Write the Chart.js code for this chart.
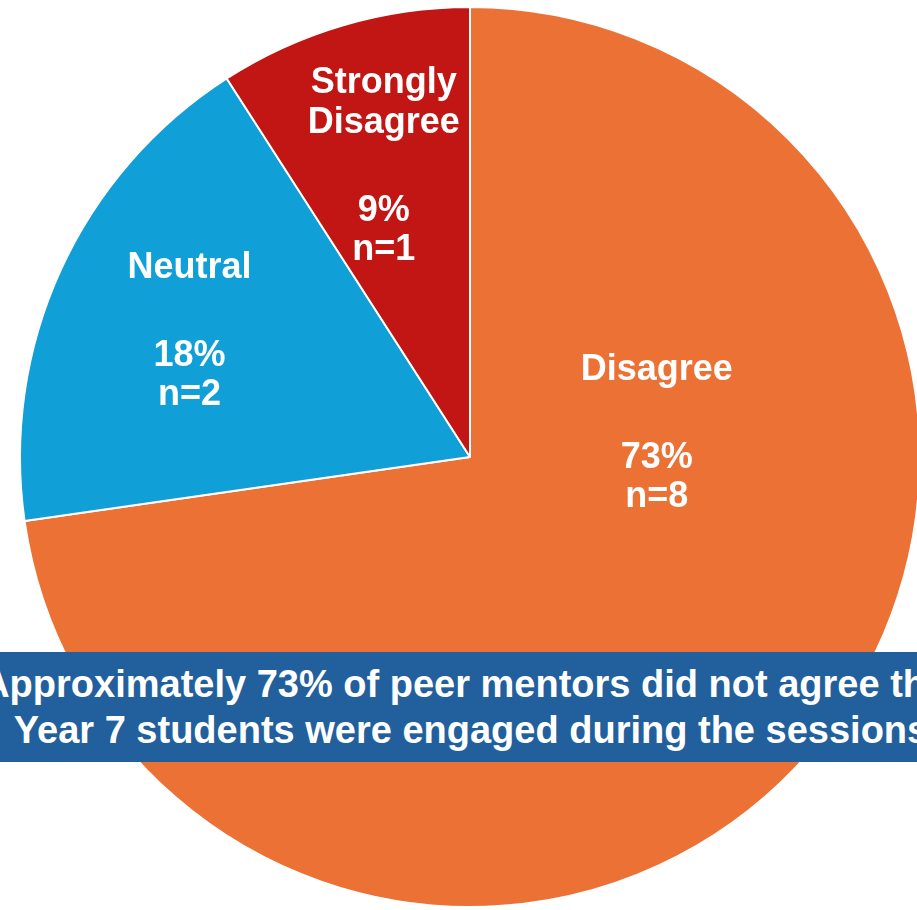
<!DOCTYPE html>
<html>
<head>
<meta charset="utf-8">
<script src="https://cdn.jsdelivr.net/npm/chart.js@4.4.1/dist/chart.umd.min.js"></script>
<style>
  html, body { margin: 0; padding: 0; width: 917px; height: 910px; overflow: hidden; background: #ffffff; }
  #wrap { position: absolute; left: 19px; top: 6px; width: 902px; height: 902px; }
  #banner {
    position: absolute; left: 0; top: 652px; width: 917px; height: 110px;
    background: #22609D; overflow: hidden;
    font-family: "Liberation Sans", Arial, Helvetica, sans-serif; font-weight: bold;
    font-size: 38px; color: #ffffff;
  }
  #banner .line {
    position: absolute; left: 471px; transform: translateX(-50%);
    white-space: nowrap; line-height: 46px;
  }
</style>
</head>
<body>
<div id="wrap"><canvas id="c" width="902" height="902"></canvas></div>
<div id="banner">
  <div class="line" style="top:9px;">Approximately 73% of peer mentors did not agree that</div>
  <div class="line" style="top:55px;">Year 7 students were engaged during the sessions</div>
</div>
<script>
const categories = ["Disagree", "Neutral", "Strongly Disagree"];
const counts = [8, 2, 1];
const labelLines = [["Disagree"], ["Neutral"], ["Strongly", "Disagree"]];
const colors = ["#EB7134", "#109FD6", "#C11613"];

const total = counts.reduce((a, b) => a + b, 0);

const labelPlugin = {
  id: 'sliceLabels',
  afterDatasetsDraw(chart) {
    const ctx = chart.ctx;
    const meta = chart.getDatasetMeta(0);
    ctx.save();
    ctx.fillStyle = '#ffffff';
    ctx.font = 'bold 36px "Liberation Sans", Arial, sans-serif';
    ctx.textAlign = 'center';
    ctx.textBaseline = 'middle';
    meta.data.forEach((arc, i) => {
      const p = arc.getProps(['x', 'y', 'startAngle', 'endAngle', 'outerRadius'], true);
      let cx, cy;
      if (i === 0) {
        cx = p.x + 0.415 * p.outerRadius;
        cy = p.y - 0.058 * p.outerRadius + 3;
      } else {
        const mid = (p.startAngle + p.endAngle) / 2;
        const d = (i === 2 ? 0.68 : 0.685) * p.outerRadius;
        cx = p.x + Math.cos(mid) * d;
        cy = p.y + Math.sin(mid) * d + 3;
      }
      const pct = Math.round(counts[i] / total * 100) + '%';
      const lines = labelLines[i].slice();
      const step = 40, gap = 88, step2 = 39;
      const h = (lines.length - 1) * step + gap + step2;
      let y = cy - h / 2;
      lines.forEach((t, k) => {
        ctx.fillText(t, cx, y);
        if (k < lines.length - 1) y += step;
      });
      y += gap;
      ctx.fillText(pct, cx, y);
      y += step2;
      ctx.fillText('n=' + counts[i], cx, y);
    });
    ctx.restore();
  }
};

new Chart(document.getElementById('c'), {
  type: 'pie',
  data: {
    labels: categories,
    datasets: [{
      data: counts,
      backgroundColor: colors,
      borderColor: '#ffffff',
      borderWidth: 2,
      hoverOffset: 0
    }]
  },
  options: {
    responsive: false,
    animation: false,
    events: [],
    layout: { padding: 0 },
    plugins: {
      legend: { display: false },
      tooltip: { enabled: false },
      title: { display: false }
    }
  },
  plugins: [labelPlugin]
});
</script>
</body>
</html>
